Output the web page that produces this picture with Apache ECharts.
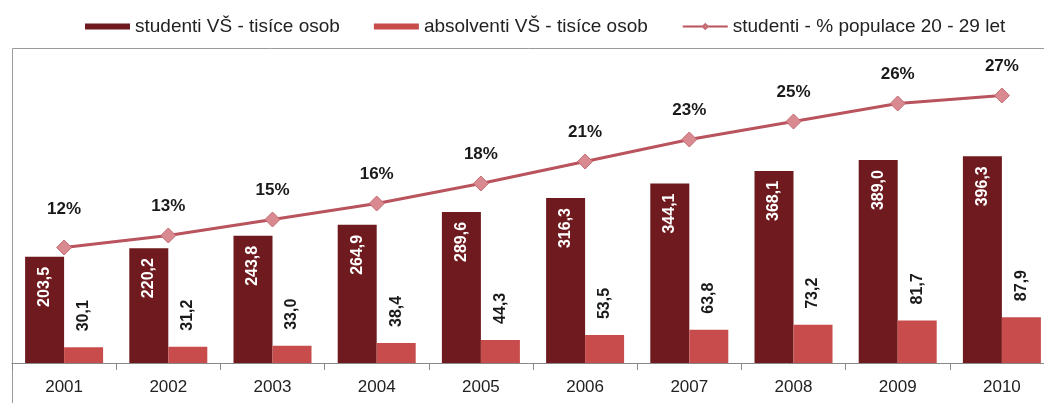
<!DOCTYPE html>
<html>
<head>
<meta charset="utf-8">
<script src="https://cdn.jsdelivr.net/npm/echarts@6/dist/echarts.min.js"></script>
<style>
  html, body { margin: 0; padding: 0; background: #fff; overflow: hidden; }
  #chart { width: 1044px; height: 403px; }
</style>
</head>
<body>
<div id="chart"></div>
<script>
// roky
const years = ['2001', '2002', '2003', '2004', '2005', '2006', '2007', '2008', '2009', '2010'];
// studenti VŠ - tisíce osob
const studenti = [203.5, 220.2, 243.8, 264.9, 289.6, 316.3, 344.1, 368.1, 389.0, 396.3];
// absolventi VŠ - tisíce osob
const absolventi = [30.1, 31.2, 33.0, 38.4, 44.3, 53.5, 63.8, 73.2, 81.7, 87.9];
// studenti - % populace 20 - 29 let (odečteno z polohy bodů)
const podil = [12.0, 13.2, 14.8, 16.4, 18.4, 20.6, 22.8, 24.6, 26.4, 27.2];

const font = '"Liberation Sans", Arial, sans-serif';
const fmtComma = v => v.toFixed(1).replace('.', ',');

let myChart = echarts.init(document.getElementById('chart'));
myChart.setOption({
  animation: false,
  textStyle: { fontFamily: font },
  // rámeček kolem grafu (vpravo a dole je oříznutý)
  graphic: [
    {
      type: 'line',
      shape: { x1: 12.5, y1: 48.5, x2: 12.5, y2: 403 },
      style: { stroke: '#9a9a9a', lineWidth: 1 },
      silent: true
    },
    {
      type: 'line',
      shape: { x1: 12.5, y1: 48.5, x2: 1044, y2: 48.5 },
      style: { stroke: '#9a9a9a', lineWidth: 1 },
      silent: true
    }
  ],
  legend: {
    top: 12,
    left: 80,
    itemWidth: 45,
    itemHeight: 6,
    itemGap: 34,
    textStyle: { fontSize: 19, color: '#222', fontFamily: font },
    data: [
      { name: 'studenti VŠ - tisíce osob', icon: 'rect' },
      { name: 'absolventi VŠ - tisíce osob', icon: 'rect' },
      { name: 'studenti - % populace 20 - 29 let' }
    ]
  },
  // graf je vpravo oříznutý, mřížka přesahuje okraj
  grid: { left: 12, width: 1042, top: 50, bottom: 40, outerBoundsMode: 'none' },
  xAxis: {
    type: 'category',
    data: years,
    axisLine: { lineStyle: { color: '#888' } },
    axisTick: { show: true, length: 7, lineStyle: { color: '#888' } },
    axisLabel: { color: '#222', fontSize: 17, margin: 16, fontFamily: font }
  },
  yAxis: [
    { type: 'value', min: 0, max: 600, show: false, splitLine: { show: false } },
    { type: 'value', min: 0.45, max: 31.75, show: false, splitLine: { show: false } }
  ],
  series: [
    {
      name: 'studenti VŠ - tisíce osob',
      type: 'bar',
      data: studenti,
      barWidth: 39,
      barGap: '0%',
      itemStyle: { color: '#6e1a1e' },
      label: {
        show: true,
        position: 'insideTop',
        distance: 10,
        rotate: 90,
        align: 'right',
        verticalAlign: 'middle',
        color: '#fff',
        fontWeight: 'bold',
        fontSize: 16,
        fontFamily: font,
        formatter: p => fmtComma(p.value)
      }
    },
    {
      name: 'absolventi VŠ - tisíce osob',
      type: 'bar',
      data: absolventi,
      barWidth: 39,
      barGap: '0%',
      itemStyle: { color: '#c84c4b' },
      label: {
        show: true,
        position: 'top',
        distance: 16,
        rotate: 90,
        align: 'left',
        verticalAlign: 'middle',
        color: '#1a1a1a',
        fontWeight: 'bold',
        fontSize: 16,
        fontFamily: font,
        formatter: p => fmtComma(p.value)
      }
    },
    {
      name: 'studenti - % populace 20 - 29 let',
      type: 'line',
      yAxisIndex: 1,
      // první popisek je v originále výš
      data: podil.map((v, i) => i === 0 ? { value: v, label: { distance: 22 } } : v),
      symbol: 'diamond',
      symbolSize: 15,
      lineStyle: { color: '#b9535d', width: 3 },
      itemStyle: { color: '#d98a90', borderColor: '#c46a72', borderWidth: 1 },
      label: {
        show: true,
        position: 'top',
        distance: 13,
        color: '#1a1a1a',
        fontWeight: 'bold',
        fontSize: 17,
        fontFamily: font,
        formatter: p => Math.round(p.value) + '%'
      },
      z: 5
    }
  ]
});
</script>
</body>
</html>
